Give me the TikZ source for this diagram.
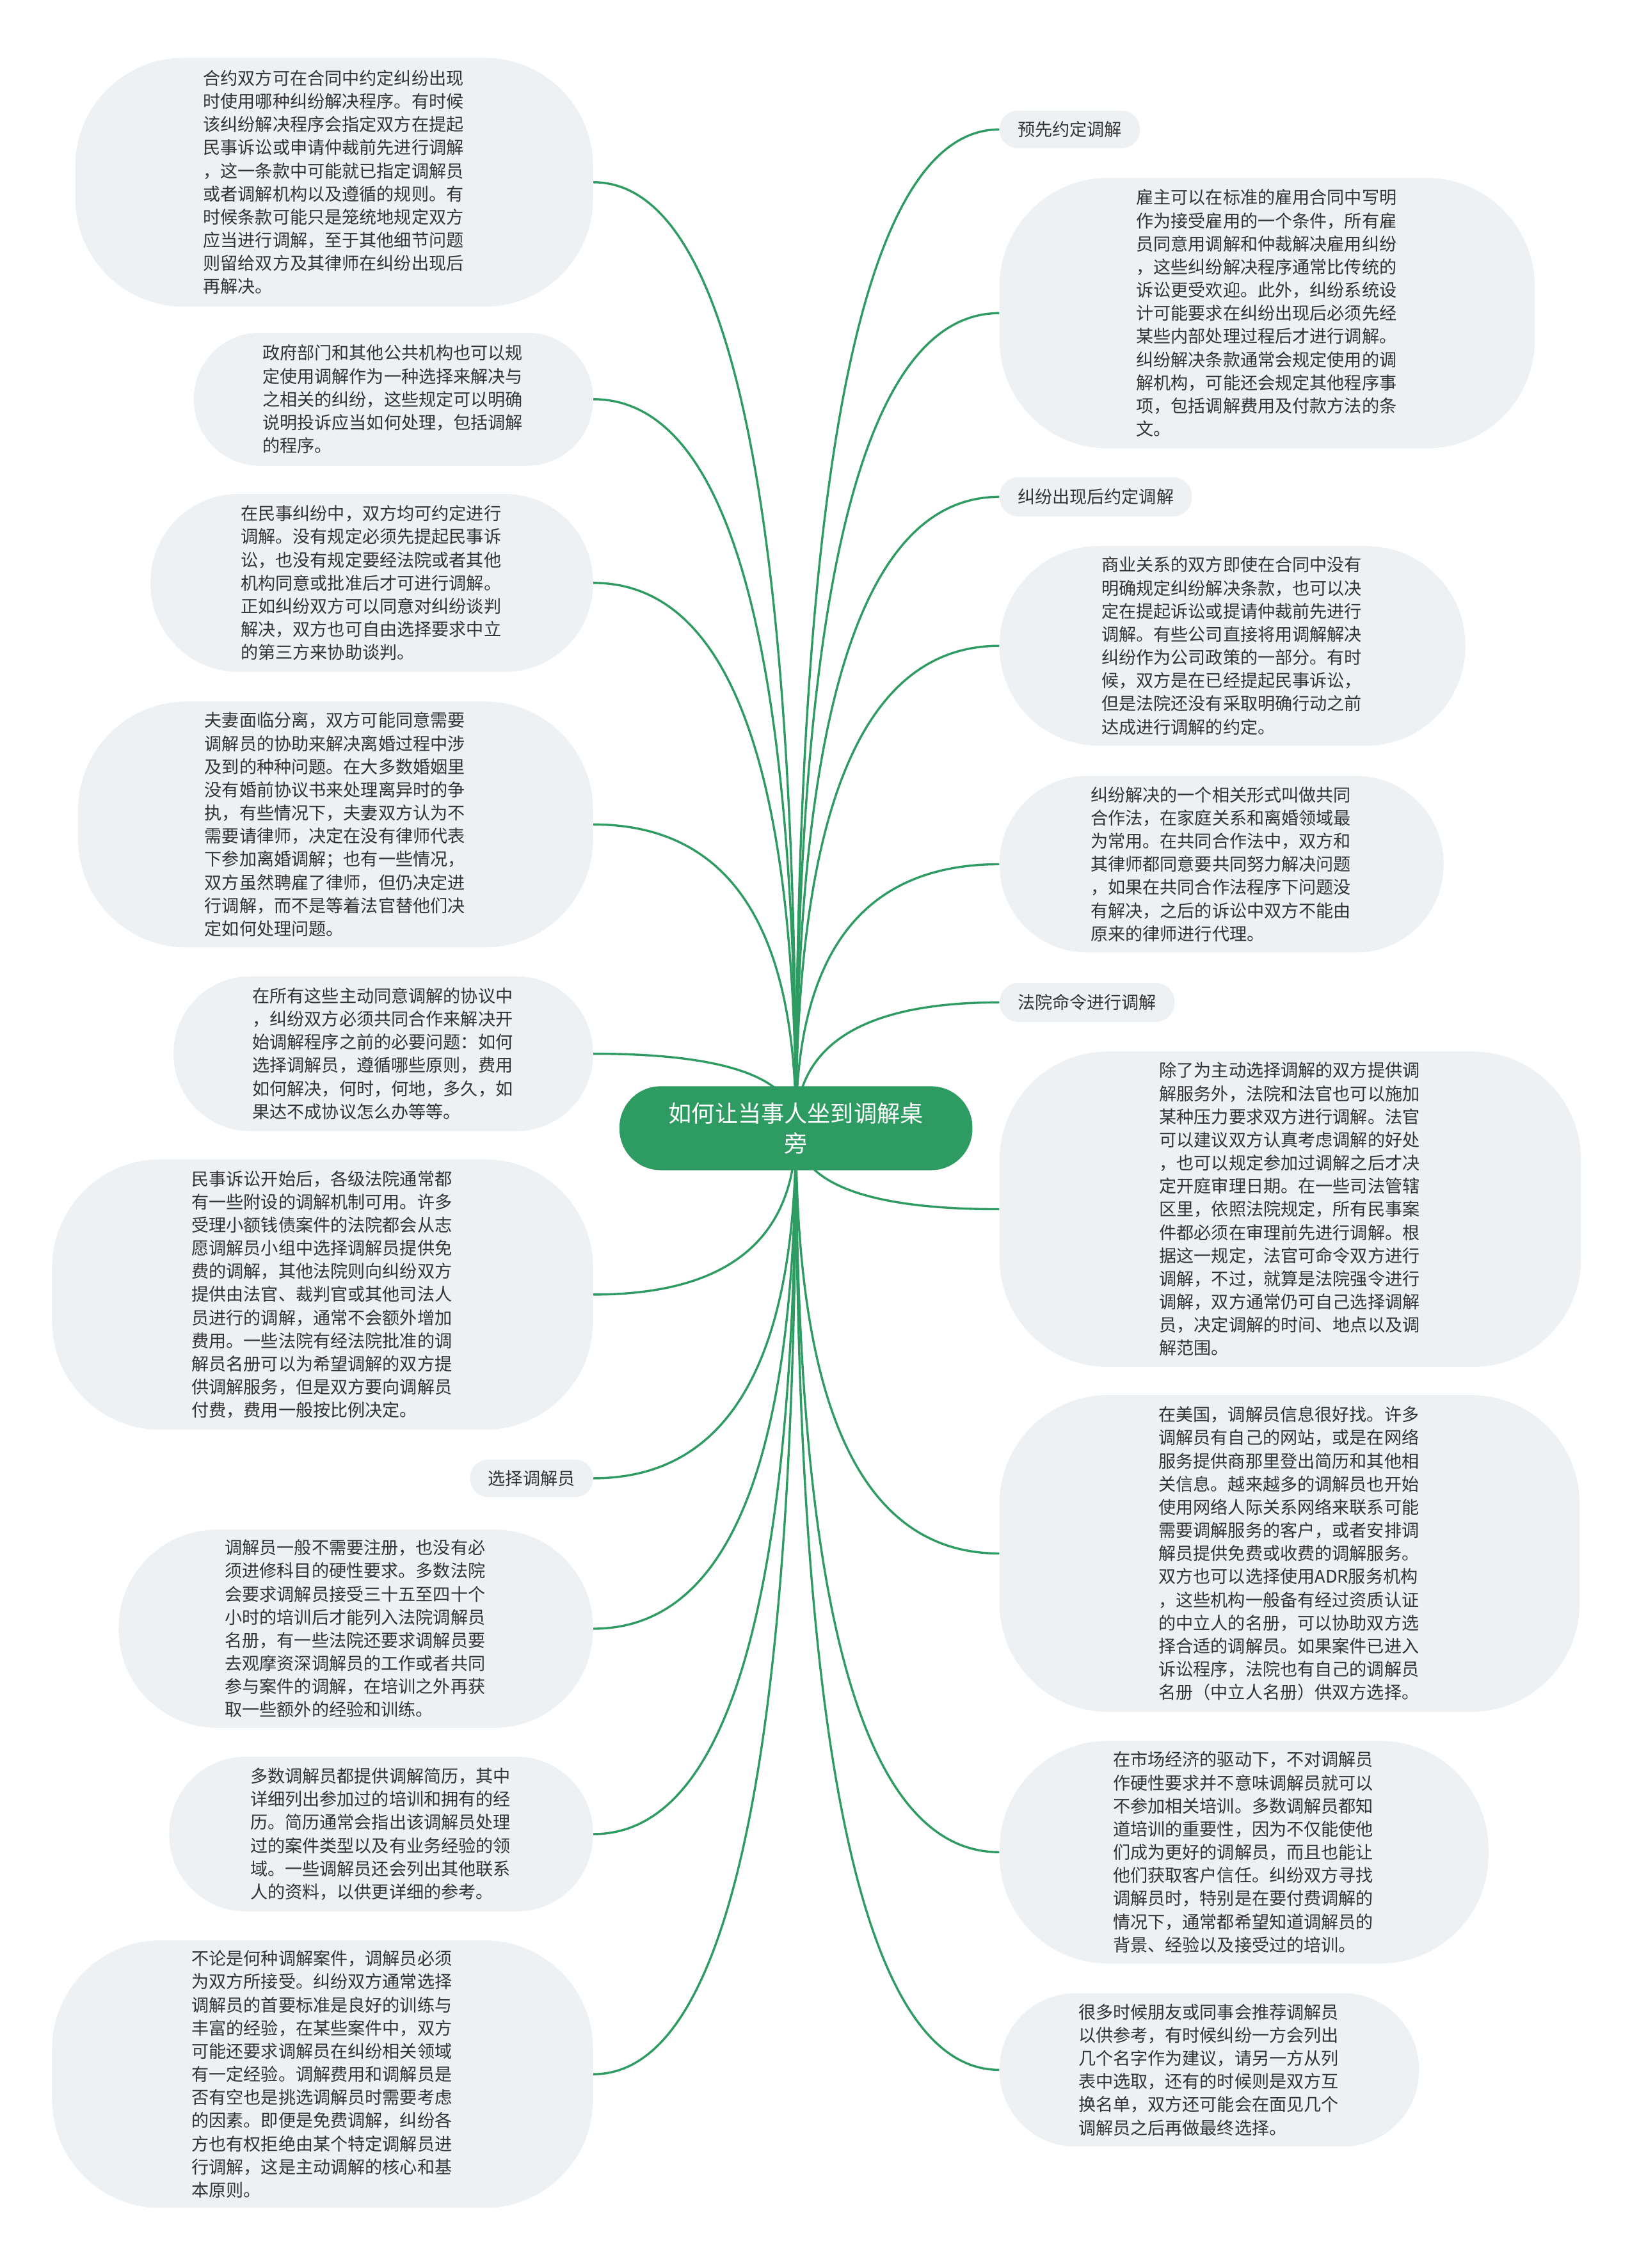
\documentclass[tikz,border=0pt]{standalone}
\usepackage{fontspec}
\setmainfont{Noto Sans CJK SC}
\usetikzlibrary{calc}
\definecolor{leafgray}{RGB}{238,241,244}
\definecolor{topicgreen}{RGB}{46,155,99}
\definecolor{inkgray}{RGB}{51,51,51}
\pgfdeclarelayer{bg}
\pgfsetlayers{bg,main}

\begin{document}
\begin{tikzpicture}[x=1pt, y=-1pt,
    card/.style 2 args={fill=leafgray, text=inkgray, minimum width=#1pt, minimum height=#2pt,
        rounded corners={min(#2/2-0.5,75)}, inner sep=0pt, text width=181pt, align=left,
        font=\fontsize{12}{16}\selectfont},
    tag/.style 2 args={fill=leafgray, text=inkgray, minimum width=#1pt, minimum height=#2pt,
        rounded corners={#2/2-0.5}, inner sep=0pt, font=\fontsize{12}{16}\selectfont},
    topic/.style={fill=topicgreen, text=white, minimum width=244pt, minimum height=58pt,
        rounded corners=28.5pt, inner sep=0pt, text width=180pt, align=center,
        font=\fontsize{16}{21}\selectfont},
    branch/.style={draw=topicgreen, line width=1.5pt}]
    \useasboundingbox (0,0) rectangle (1132.7,1568);

    % Root
    \node[topic] (root) at (550.25,780) {如何让当事人坐到调解桌\\旁};

    % Left side
    \node[card={358}{172}] (contract) at (231,126) {合约双方可在合同中约定纠纷出现\\时使用哪种纠纷解决程序。有时候\\该纠纷解决程序会指定双方在提起\\民事诉讼或申请仲裁前先进行调解\\，这一条款中可能就已指定调解员\\或者调解机构以及遵循的规则。有\\时候条款可能只是笼统地规定双方\\应当进行调解，至于其他细节问题\\则留给双方及其律师在纠纷出现后\\再解决。};
    \node[card={276}{92}] (public) at (272,276) {政府部门和其他公共机构也可以规\\定使用调解作为一种选择来解决与\\之相关的纠纷，这些规定可以明确\\说明投诉应当如何处理，包括调解\\的程序。};
    \node[card={306}{123}] (civil) at (257,403) {在民事纠纷中，双方均可约定进行\\调解。没有规定必须先提起民事诉\\讼，也没有规定要经法院或者其他\\机构同意或批准后才可进行调解。\\正如纠纷双方可以同意对纠纷谈判\\解决，双方也可自由选择要求中立\\的第三方来协助谈判。};
    \node[card={356}{170}] (divorce) at (232,570) {夫妻面临分离，双方可能同意需要\\调解员的协助来解决离婚过程中涉\\及到的种种问题。在大多数婚姻里\\没有婚前协议书来处理离异时的争\\执，有些情况下，夫妻双方认为不\\需要请律师，决定在没有律师代表\\下参加离婚调解；也有一些情况，\\双方虽然聘雇了律师，但仍决定进\\行调解，而不是等着法官替他们决\\定如何处理问题。};
    \node[card={290}{107}] (issues) at (265,728.5) {在所有这些主动同意调解的协议中\\，纠纷双方必须共同合作来解决开\\始调解程序之前的必要问题：如何\\选择调解员，遵循哪些原则，费用\\如何解决，何时，何地，多久，如\\果达不成协议怎么办等等。};
    \node[card={374}{187}] (courtside) at (223,895) {民事诉讼开始后，各级法院通常都\\有一些附设的调解机制可用。许多\\受理小额钱债案件的法院都会从志\\愿调解员小组中选择调解员提供免\\费的调解，其他法院则向纠纷双方\\提供由法官、裁判官或其他司法人\\员进行的调解，通常不会额外增加\\费用。一些法院有经法院批准的调\\解员名册可以为希望调解的双方提\\供调解服务，但是双方要向调解员\\付费，费用一般按比例决定。};
    \node[tag={85}{26}] (pick) at (367.5,1022) {选择调解员};
    \node[card={328}{137}] (register) at (246,1126) {调解员一般不需要注册，也没有必\\须进修科目的硬性要求。多数法院\\会要求调解员接受三十五至四十个\\小时的培训后才能列入法院调解员\\名册，有一些法院还要求调解员要\\去观摩资深调解员的工作或者共同\\参与案件的调解，在培训之外再获\\取一些额外的经验和训练。};
    \node[card={293}{107}] (resume) at (263.5,1268) {多数调解员都提供调解简历，其中\\详细列出参加过的培训和拥有的经\\历。简历通常会指出该调解员处理\\过的案件类型以及有业务经验的领\\域。一些调解员还会列出其他联系\\人的资料，以供更详细的参考。};
    \node[card={374}{185}] (accept) at (223,1434) {不论是何种调解案件，调解员必须\\为双方所接受。纠纷双方通常选择\\调解员的首要标准是良好的训练与\\丰富的经验，在某些案件中，双方\\可能还要求调解员在纠纷相关领域\\有一定经验。调解费用和调解员是\\否有空也是挑选调解员时需要考虑\\的因素。即便是免费调解，纠纷各\\方也有权拒绝由某个特定调解员进\\行调解，这是主动调解的核心和基\\本原则。};

    % Right side
    \node[tag={97}{26}] (advance) at (739.5,89.5) {预先约定调解};
    \node[card={370}{187}] (employer) at (876,216.5) {雇主可以在标准的雇用合同中写明\\作为接受雇用的一个条件，所有雇\\员同意用调解和仲裁解决雇用纠纷\\，这些纠纷解决程序通常比传统的\\诉讼更受欢迎。此外，纠纷系统设\\计可能要求在纠纷出现后必须先经\\某些内部处理过程后才进行调解。\\纠纷解决条款通常会规定使用的调\\解机构，可能还会规定其他程序事\\项，包括调解费用及付款方法的条\\文。};
    \node[tag={133}{27}] (after) at (757.5,343.5) {纠纷出现后约定调解};
    \node[card={322}{138}] (business) at (852,446.5) {商业关系的双方即使在合同中没有\\明确规定纠纷解决条款，也可以决\\定在提起诉讼或提请仲裁前先进行\\调解。有些公司直接将用调解解决\\纠纷作为公司政策的一部分。有时\\候，双方是在已经提起民事诉讼，\\但是法院还没有采取明确行动之前\\达成进行调解的约定。};
    \node[card={307}{122}] (collab) at (844.5,597.5) {纠纷解决的一个相关形式叫做共同\\合作法，在家庭关系和离婚领域最\\为常用。在共同合作法中，双方和\\其律师都同意要共同努力解决问题\\，如果在共同合作法程序下问题没\\有解决，之后的诉讼中双方不能由\\原来的律师进行代理。};
    \node[tag={121}{27}] (ordered) at (751.5,693) {法院命令进行调解};
    \node[card={402}{218}] (pressure) at (892,836) {除了为主动选择调解的双方提供调\\解服务外，法院和法官也可以施加\\某种压力要求双方进行调解。法官\\可以建议双方认真考虑调解的好处\\，也可以规定参加过调解之后才决\\定开庭审理日期。在一些司法管辖\\区里，依照法院规定，所有民事案\\件都必须在审理前先进行调解。根\\据这一规定，法官可命令双方进行\\调解，不过，就算是法院强令进行\\调解，双方通常仍可自己选择调解\\员，决定调解的时间、地点以及调\\解范围。};
    \node[card={401}{219}] (usa) at (891.5,1074) {在美国，调解员信息很好找。许多\\调解员有自己的网站，或是在网络\\服务提供商那里登出简历和其他相\\关信息。越来越多的调解员也开始\\使用网络人际关系网络来联系可能\\需要调解服务的客户，或者安排调\\解员提供免费或收费的调解服务。\\双方也可以选择使用ADR服务机构\\，这些机构一般备有经过资质认证\\的中立人的名册，可以协助双方选\\择合适的调解员。如果案件已进入\\诉讼程序，法院也有自己的调解员\\名册（中立人名册）供双方选择。};
    \node[card={338}{154}] (market) at (860,1280.5) {在市场经济的驱动下，不对调解员\\作硬性要求并不意味调解员就可以\\不参加相关培训。多数调解员都知\\道培训的重要性，因为不仅能使他\\们成为更好的调解员，而且也能让\\他们获取客户信任。纠纷双方寻找\\调解员时，特别是在要付费调解的\\情况下，通常都希望知道调解员的\\背景、经验以及接受过的培训。};
    \node[card={290}{106}] (referral) at (836,1431) {很多时候朋友或同事会推荐调解员\\以供参考，有时候纠纷一方会列出\\几个名字作为建议，请另一方从列\\表中选取，还有的时候则是双方互\\换名单，双方还可能会在面见几个\\调解员之后再做最终选择。};

    % Connectors
    \begin{pgfonlayer}{bg}
        \fill[white] (0,0) rectangle (1132.7,1568);
        \foreach \leaf in {advance,employer,after,business,collab,ordered,pressure,usa,market,referral}
            \draw[branch] (root.center) .. controls ($(root.center)!0.667!(root.center |- \leaf.west)$)
                and ($(\leaf.west)!0.667!(root.center |- \leaf.west)$) .. (\leaf.west);
        \foreach \leaf in {contract,public,civil,divorce,issues,courtside,pick,register,resume,accept}
            \draw[branch] (root.center) .. controls ($(root.center)!0.667!(root.center |- \leaf.east)$)
                and ($(\leaf.east)!0.667!(root.center |- \leaf.east)$) .. (\leaf.east);
    \end{pgfonlayer}
\end{tikzpicture}
\end{document}
